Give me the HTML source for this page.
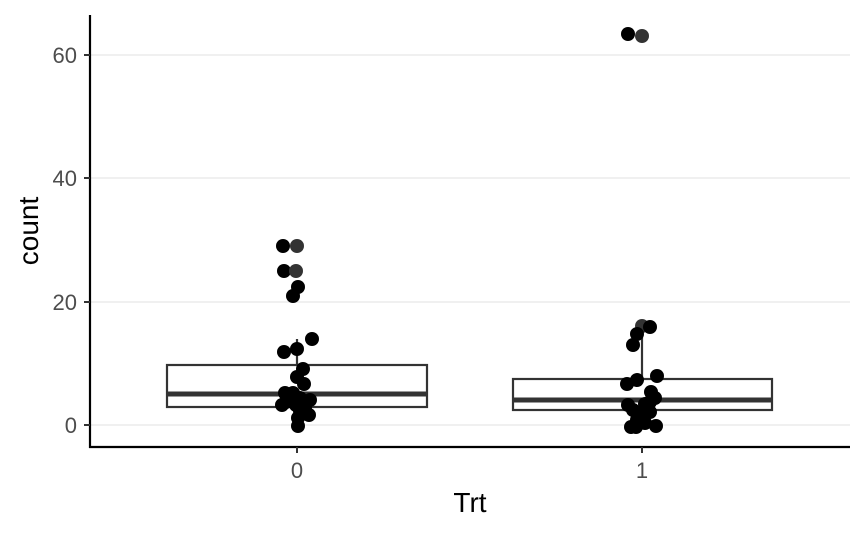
<!DOCTYPE html>
<html><head><style>body{margin:0;background:#fff}svg{display:block}</style></head><body>
<svg width="864" height="533" xmlns="http://www.w3.org/2000/svg" font-family="Liberation Sans, sans-serif">
<rect width="864" height="533" fill="#fff"/>
<g stroke="#ebebeb" stroke-width="1.5">
<line x1="90" x2="850" y1="55" y2="55"/><line x1="90" x2="850" y1="178" y2="178"/><line x1="90" x2="850" y1="302" y2="302"/><line x1="90" x2="850" y1="425" y2="425"/>
</g>
<g stroke="#333" stroke-width="2.2" fill="#fff">
<line x1="297" x2="297" y1="339" y2="365"/>
<rect x="167" y="365" width="260" height="42"/>
<line x1="642" x2="642" y1="322" y2="379"/>
<rect x="513" y="379" width="259" height="31"/>
</g>
<g stroke="#333" stroke-width="5">
<line x1="167" x2="427" y1="394" y2="394"/><line x1="513" x2="772" y1="400" y2="400"/>
</g>
<g fill="#000">
<circle cx="283" cy="246" r="7"/><circle cx="297" cy="246" r="7" fill="#333"/><circle cx="284" cy="271" r="7"/><circle cx="296" cy="271" r="7" fill="#333"/><circle cx="298" cy="287" r="7"/><circle cx="293" cy="296" r="7"/>
<circle cx="284" cy="352" r="7"/><circle cx="297" cy="349" r="7"/><circle cx="312" cy="339" r="7"/><circle cx="303" cy="369" r="7"/><circle cx="297" cy="377" r="7"/><circle cx="304" cy="384" r="7"/><circle cx="285" cy="393" r="7"/><circle cx="293" cy="393" r="7"/><circle cx="282" cy="405" r="7"/><circle cx="300" cy="398" r="7"/><circle cx="310" cy="400" r="7"/><circle cx="286" cy="402" r="7"/><circle cx="296" cy="405" r="7"/><circle cx="300" cy="411" r="7"/><circle cx="309" cy="415" r="7"/><circle cx="298" cy="418" r="7"/><circle cx="298" cy="426" r="7"/><circle cx="290" cy="398" r="7"/><circle cx="305" cy="408" r="7"/>
<circle cx="628" cy="34" r="7"/><circle cx="642" cy="36" r="7" fill="#333"/>
<circle cx="642" cy="326" r="7" fill="#333"/><circle cx="650" cy="327" r="7"/><circle cx="637" cy="334" r="7"/><circle cx="633" cy="345" r="7"/><circle cx="637" cy="380" r="7"/><circle cx="657" cy="376" r="7"/><circle cx="627" cy="384" r="7"/><circle cx="651" cy="392" r="7"/><circle cx="655" cy="398" r="7"/><circle cx="645" cy="404" r="7"/><circle cx="628" cy="405" r="7"/><circle cx="633" cy="410" r="7"/><circle cx="643" cy="413" r="7"/><circle cx="650" cy="412" r="7"/><circle cx="637" cy="420" r="7"/><circle cx="636" cy="427" r="7"/><circle cx="645" cy="423" r="7"/><circle cx="656" cy="426" r="7"/><circle cx="631" cy="427" r="7"/><circle cx="642" cy="412" r="7"/><circle cx="650" cy="402" r="7"/>
</g>
<g stroke="#000" stroke-width="2.2"><line x1="90" x2="90" y1="15" y2="448"/><line x1="89" x2="850" y1="447" y2="447"/></g>
<g stroke="#333" stroke-width="2"><line x1="84" x2="90" y1="55" y2="55"/><line x1="84" x2="90" y1="178" y2="178"/><line x1="84" x2="90" y1="302" y2="302"/><line x1="84" x2="90" y1="425" y2="425"/><line x1="297" x2="297" y1="447" y2="453"/><line x1="642" x2="642" y1="447" y2="453"/></g>
<g fill="#4d4d4d" font-size="22" text-anchor="end"><text x="77" y="63">60</text><text x="77" y="186">40</text><text x="77" y="310">20</text><text x="77" y="433">0</text></g>
<g fill="#4d4d4d" font-size="22" text-anchor="middle"><text x="297" y="478">0</text><text x="642" y="478">1</text></g>
<text x="470" y="512" font-size="28" text-anchor="middle">Trt</text>
<text transform="translate(38,231) rotate(-90)" font-size="28" text-anchor="middle">count</text>
</svg>
</body></html>
